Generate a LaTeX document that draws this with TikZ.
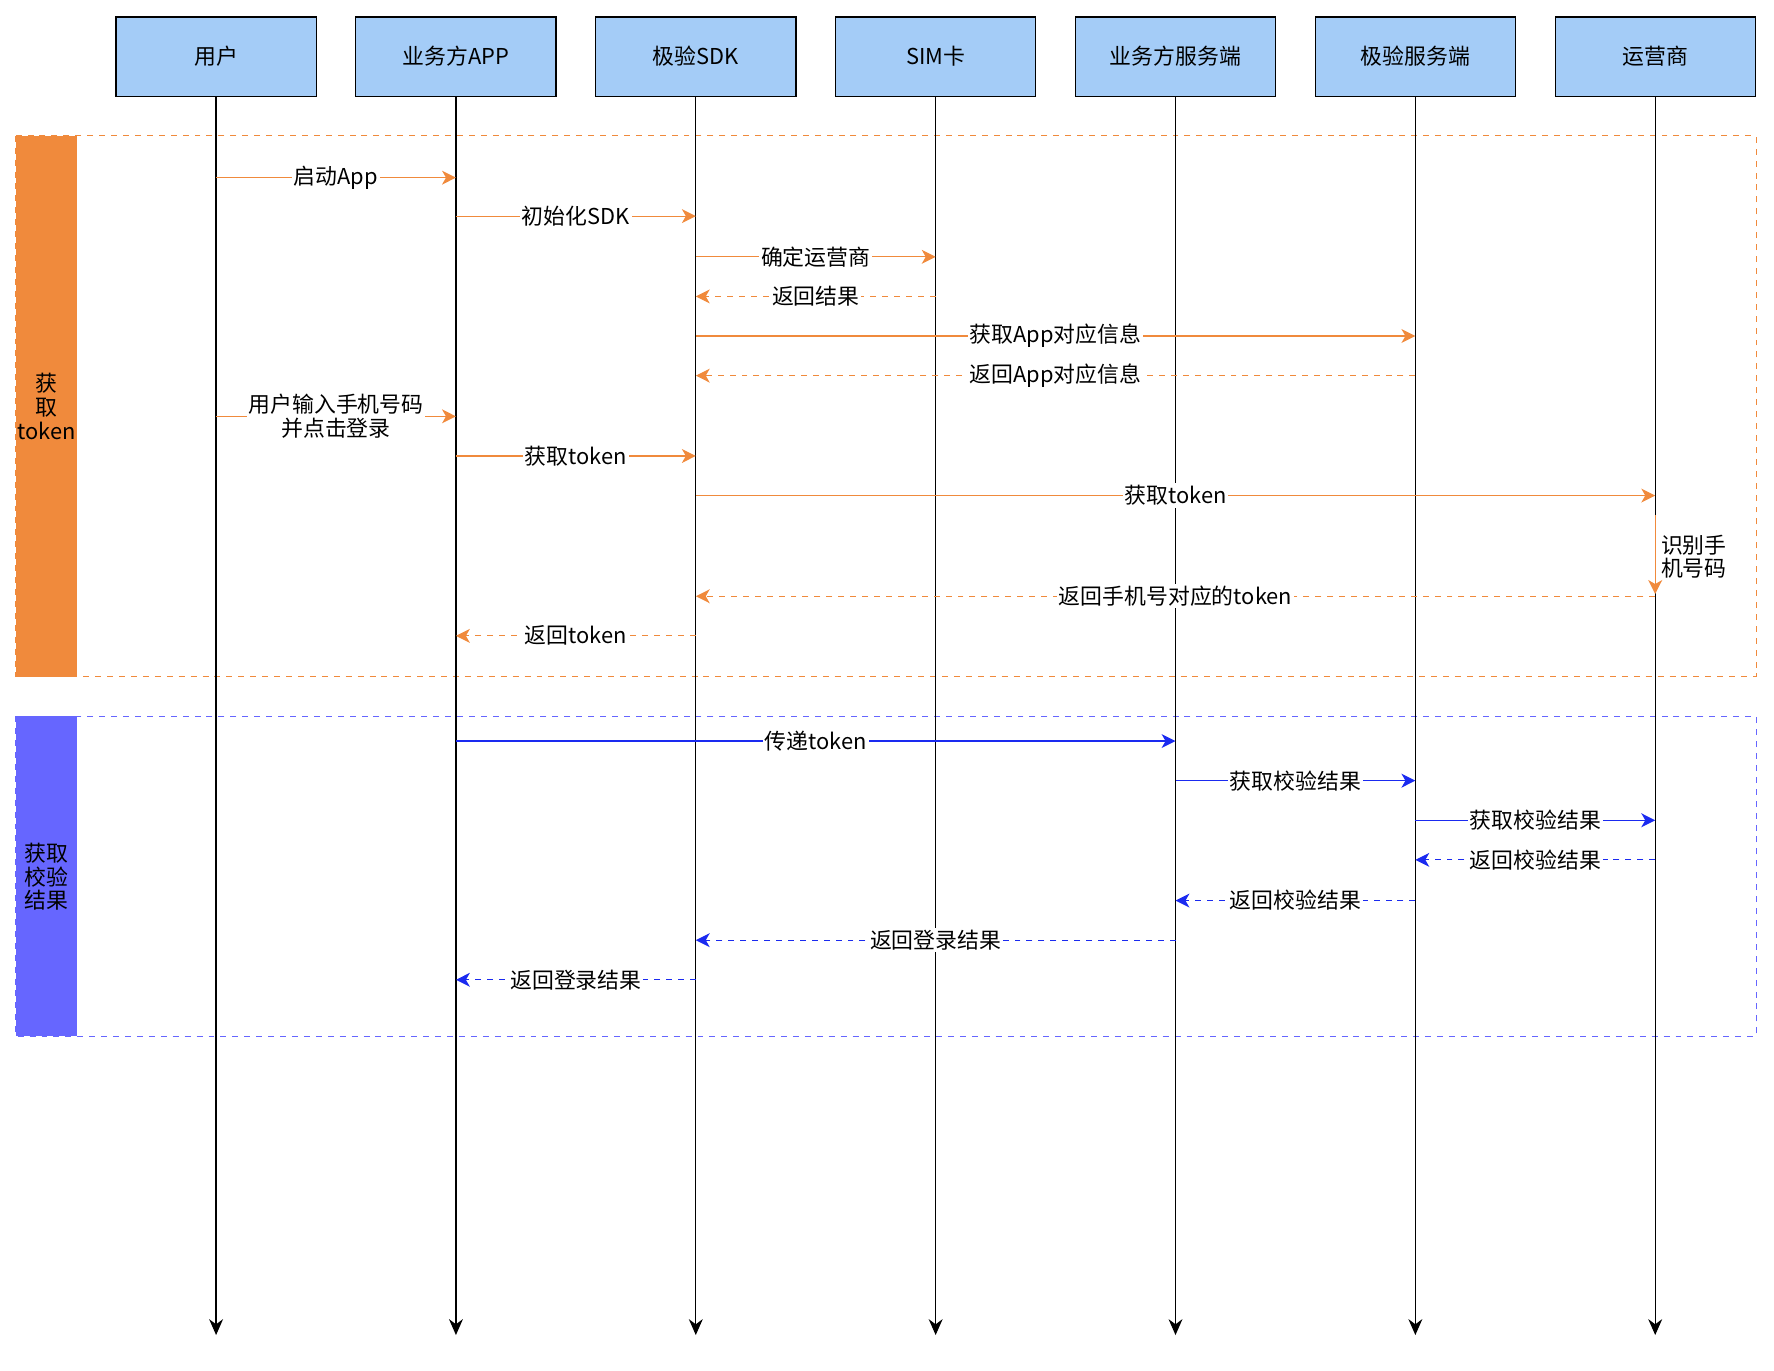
\documentclass[tikz,border=0pt]{standalone}
\usepackage{fontspec}
\setmainfont{Noto Sans CJK SC}
\usetikzlibrary{arrows.meta}
\definecolor{orgC}{HTML}{F08A3C}
\definecolor{bluC}{HTML}{1A2AF0}
\definecolor{barB}{HTML}{6666FF}
\definecolor{boxC}{HTML}{A4CCF7}
\tikzset{
  actor/.style={draw,semithick,fill=boxC,minimum width=177*0.02cm,minimum height=70*0.02cm,font=\fontsize{11}{13}\selectfont},
  life/.style={-{Stealth[length=8pt,width=7pt]},semithick},
  lbl/.style={fill=white,text=black,inner sep=1pt,font=\fontsize{11}{13}\selectfont},
  call/.style={-{Stealth[length=7pt,width=7pt,inset=2pt]},semithick},
  ret/.style={call,dashed}
}
% message: style, from x, to x, y, text
\newcommand{\msg}[5]{\draw[#1] (#2,#4) -- node[lbl]{#5} (#3,#4);}
\begin{document}
\begin{tikzpicture}[x=0.02cm,y=-0.02cm]
\useasboundingbox (0,0) rectangle (1568,1211);
% groups
\draw[orgC,dashed] (14,120) rectangle (1552,598);
\fill[orgC] (14,120) rectangle (68,598);
\node[align=center,font=\fontsize{11}{12}\selectfont] (g1) at (41,359) {获\\取\\token};
\draw[barB,dashed] (14,633) rectangle (1552,916);
\fill[barB] (14,633) rectangle (68,916);
\node[align=center,font=\fontsize{11}{12}\selectfont] (g2) at (41,775) {获取\\校验\\结果};
% actors
\foreach \n/\x/\t in {a1/191/用户,a2/403/业务方APP,a3/615/极验SDK,a4/827/SIM卡,a5/1039/业务方服务端,a6/1251/极验服务端,a7/1463/运营商}{
  \node[actor] (\n) at (\x,50) {\t};
  \coordinate (\n e) at (\x,1180);
  \draw[life] (\n) -- (\n e);
}
% token phase
\msg{call,orgC}{191}{403}{157}{启动App}
\msg{call,orgC}{403}{615}{191}{初始化SDK}
\msg{call,orgC}{615}{827}{227}{确定运营商}
\msg{ret,orgC}{827}{615}{262}{返回结果}
\msg{call,orgC}{615}{1251}{297}{获取App对应信息}
\msg{ret,orgC}{1251}{615}{332}{返回App对应信息}
\draw[call,orgC] (191,368) -- node[lbl,align=center,font=\fontsize{11}{12}\selectfont]{用户输入手机号码\\并点击登录} (403,368);
\msg{call,orgC}{403}{615}{403}{获取token}
\msg{call,orgC}{615}{1463}{438}{获取token}
\draw[call,orgC] (1463,455) -- (1463,525);
\node[align=left,inner sep=1pt,anchor=west,font=\fontsize{11}{12}\selectfont] (self) at (1466,492) {识别手\\机号码};
\msg{ret,orgC}{1463}{615}{527}{返回手机号对应的token}
\msg{ret,orgC}{615}{403}{562}{返回token}
% check phase
\msg{call,bluC}{403}{1039}{655}{传递token}
\msg{call,bluC}{1039}{1251}{690}{获取校验结果}
\msg{call,bluC}{1251}{1463}{725}{获取校验结果}
\msg{ret,bluC}{1463}{1251}{760}{返回校验结果}
\msg{ret,bluC}{1251}{1039}{796}{返回校验结果}
\msg{ret,bluC}{1039}{615}{831}{返回登录结果}
\msg{ret,bluC}{615}{403}{866}{返回登录结果}
\end{tikzpicture}
\end{document}
